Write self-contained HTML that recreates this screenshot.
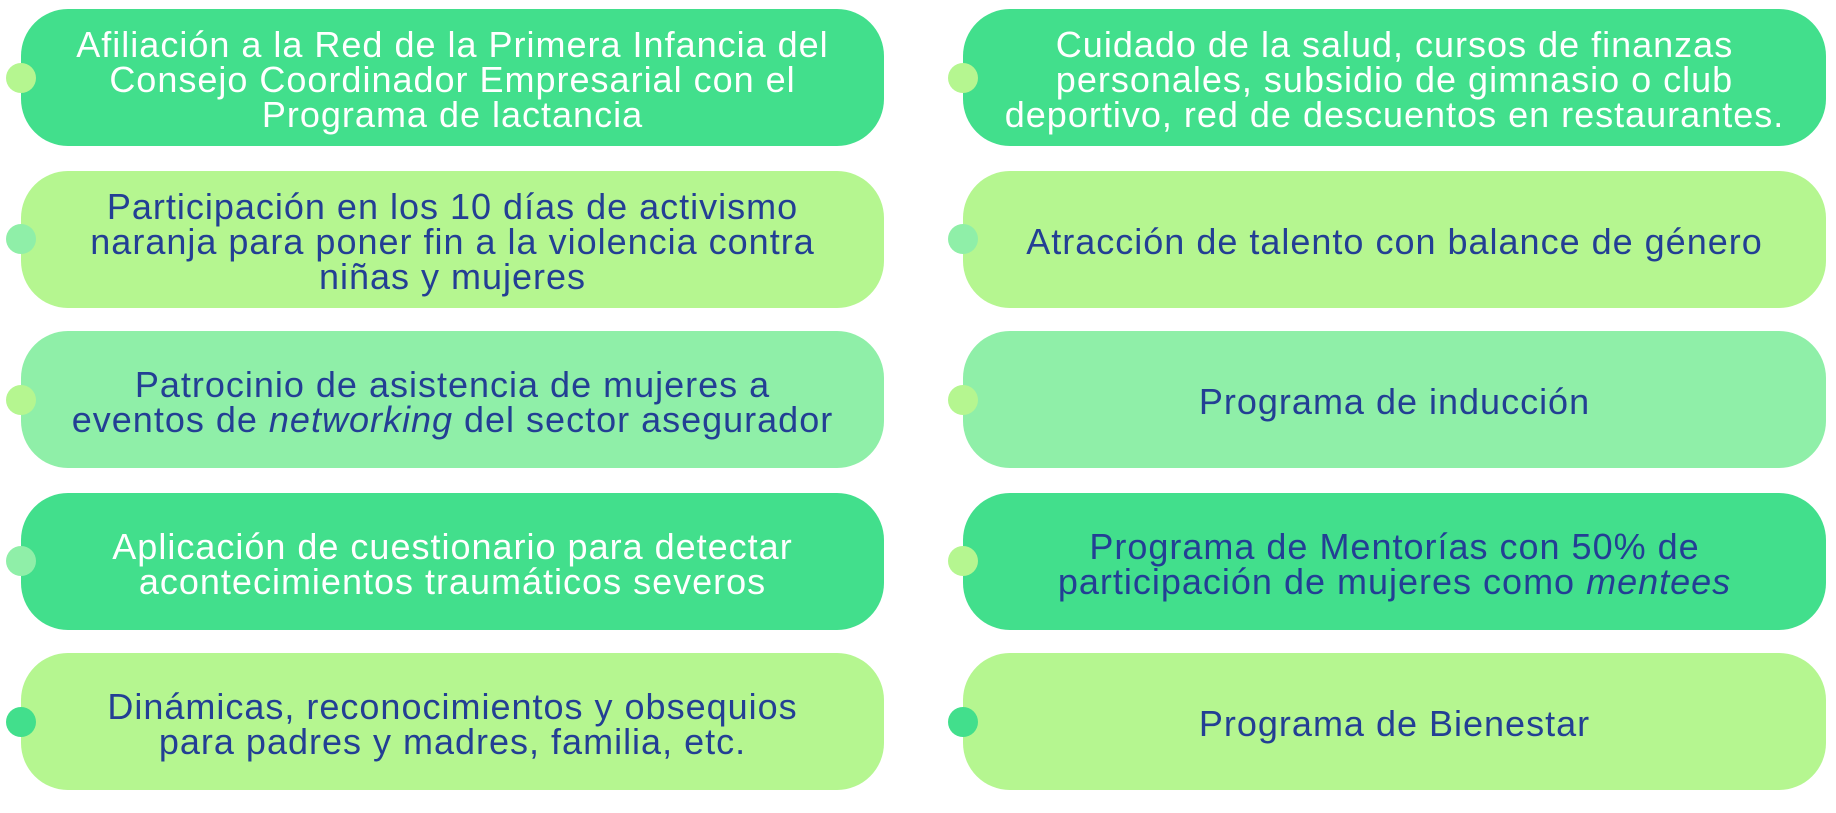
<!DOCTYPE html>
<html><head><meta charset="utf-8"><style>
body{margin:0;width:1836px;height:813px;background:#fff;position:relative;overflow:hidden;font-family:"Liberation Sans",sans-serif}
.b{position:absolute;width:863px;height:137px;border-radius:47px;display:flex;align-items:center;justify-content:center;text-align:center;font-size:36px;line-height:35px;letter-spacing:1px;color:#233f94;box-sizing:border-box;padding-top:4px}
.b span{display:block}
.d{background:#42df8c}.l{background:#b5f690}.m{background:#8fefa8}
.w{color:#fff}
.dot{position:absolute;width:30px;height:30px;border-radius:50%}
</style></head><body>
<div class="b d w" style="left:21px;top:9px"><span>Afiliación a la Red de la Primera Infancia del<br>Consejo Coordinador Empresarial con el<br>Programa de lactancia</span></div>
<div class="b l" style="left:21px;top:171px"><span>Participación en los 10 días de activismo<br>naranja para poner fin a la violencia contra<br>niñas y mujeres</span></div>
<div class="b m" style="left:21px;top:331px"><span>Patrocinio de asistencia de mujeres a<br>eventos de <i>networking</i> del sector asegurador</span></div>
<div class="b d w" style="left:21px;top:493px"><span>Aplicación de cuestionario para detectar<br>acontecimientos traumáticos severos</span></div>
<div class="b l" style="left:21px;top:653px"><span>Dinámicas, reconocimientos y obsequios<br>para padres y madres, familia, etc.</span></div>
<div class="b d w" style="left:963px;top:9px"><span>Cuidado de la salud, cursos de finanzas<br>personales, subsidio de gimnasio o club<br>deportivo, red de descuentos en restaurantes.</span></div>
<div class="b l" style="left:963px;top:171px"><span>Atracción de talento con balance de género</span></div>
<div class="b m" style="left:963px;top:331px"><span>Programa de inducción</span></div>
<div class="b d" style="left:963px;top:493px"><span>Programa de Mentorías con 50% de<br>participación de mujeres como <i>mentees</i></span></div>
<div class="b l" style="left:963px;top:653px"><span>Programa de Bienestar</span></div>
<div class="dot" style="left:6px;top:63px;background:#b5f690"></div>
<div class="dot" style="left:6px;top:224px;background:#8fefa8"></div>
<div class="dot" style="left:6px;top:385px;background:#b5f690"></div>
<div class="dot" style="left:6px;top:546px;background:#8fefa8"></div>
<div class="dot" style="left:6px;top:707px;background:#42df8c"></div>
<div class="dot" style="left:948px;top:63px;background:#b5f690"></div>
<div class="dot" style="left:948px;top:224px;background:#8fefa8"></div>
<div class="dot" style="left:948px;top:385px;background:#b5f690"></div>
<div class="dot" style="left:948px;top:546px;background:#b5f690"></div>
<div class="dot" style="left:948px;top:707px;background:#42df8c"></div>
</body></html>
